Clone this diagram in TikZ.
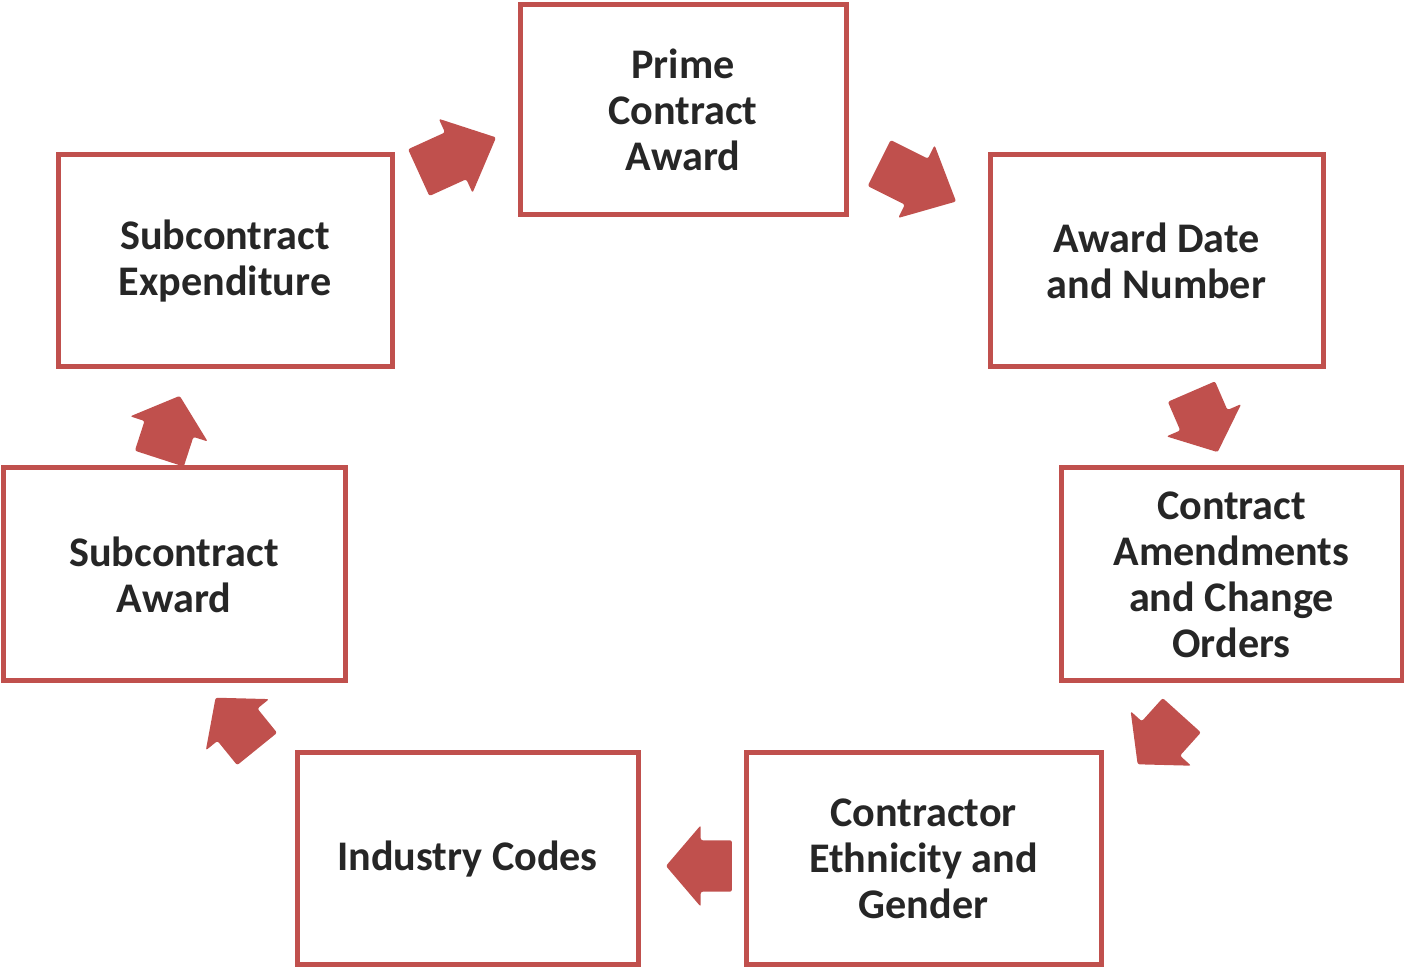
\documentclass[tikz,border=0pt]{standalone}
\usepackage{fontspec}
\setmainfont{Carlito}
\usepackage{xcolor}
\usetikzlibrary{shapes.arrows}

\definecolor{boxred}{RGB}{192,80,77}
\definecolor{textgrey}{RGB}{38,38,38}

\tikzset{
  stage/.style={draw=boxred, line width=0.05cm, rectangle, fill=white,
    align=center, inner sep=0pt, outer sep=0pt, text=textgrey,
    font=\fontsize{12}{13.1}\selectfont\bfseries},
  flow/.style={single arrow, fill=boxred, draw=none, anchor=tip,
    inner xsep=0pt, inner ysep=0.25cm,
    minimum width=0.8cm, minimum height=0.66cm,
    single arrow head extend=0.15cm, single arrow tip angle=99,
    rounded corners=0.6pt}
}

\begin{document}
\begin{tikzpicture}[x={(1cm,0cm)}, y={(0cm,1cm)}]
  \useasboundingbox (0,0) rectangle (14.04,9.68);

  % Nodes
  \node[stage,minimum width=3.26cm,minimum height=2.10cm] (PrimeAward) at (6.83,8.58) {Prime\\Contract\\Award};
  \node[stage,minimum width=3.33cm,minimum height=2.12cm] (AwardDate) at (11.565,7.07) {Award Date\\and Number};
  \node[stage,minimum width=3.41cm,minimum height=2.13cm] (Amendments) at (12.315,3.935) {Contract\\Amendments\\and Change\\Orders};
  \node[stage,minimum width=3.55cm,minimum height=2.12cm] (Ethnicity) at (9.235,1.09) {Contractor\\Ethnicity and\\Gender};
  \node[stage,minimum width=3.41cm,minimum height=2.12cm] (IndustryCodes) at (4.675,1.09) {Industry Codes};
  \node[stage,minimum width=3.42cm,minimum height=2.13cm] (SubAward) at (1.74,3.935) {Subcontract\\Award};
  \node[stage,minimum width=3.34cm,minimum height=2.12cm] (SubExpenditure) at (2.25,7.07) {Subcontract\\Expenditure};

  % Arrows (placed by their tips)
  \node[flow,rotate=24.5,minimum height=0.85cm,single arrow tip angle=85] (Arrow1) at (4.97,8.31) {};
  \node[flow,rotate=-26.6,minimum height=0.86cm,single arrow tip angle=85] (Arrow2) at (9.57,7.66) {};
  \node[flow,rotate=-66.6] (Arrow3) at (12.18,5.15) {};
  \node[flow,rotate=-132] (Arrow4) at (11.37,2.03) {};
  \node[flow,rotate=180] (Arrow5) at (6.65,1.02) {};
  \node[flow,rotate=129] (Arrow6) at (2.15,2.71) {};
  \node[flow,rotate=72] (Arrow7) at (1.80,5.73) {};
\end{tikzpicture}
\end{document}
